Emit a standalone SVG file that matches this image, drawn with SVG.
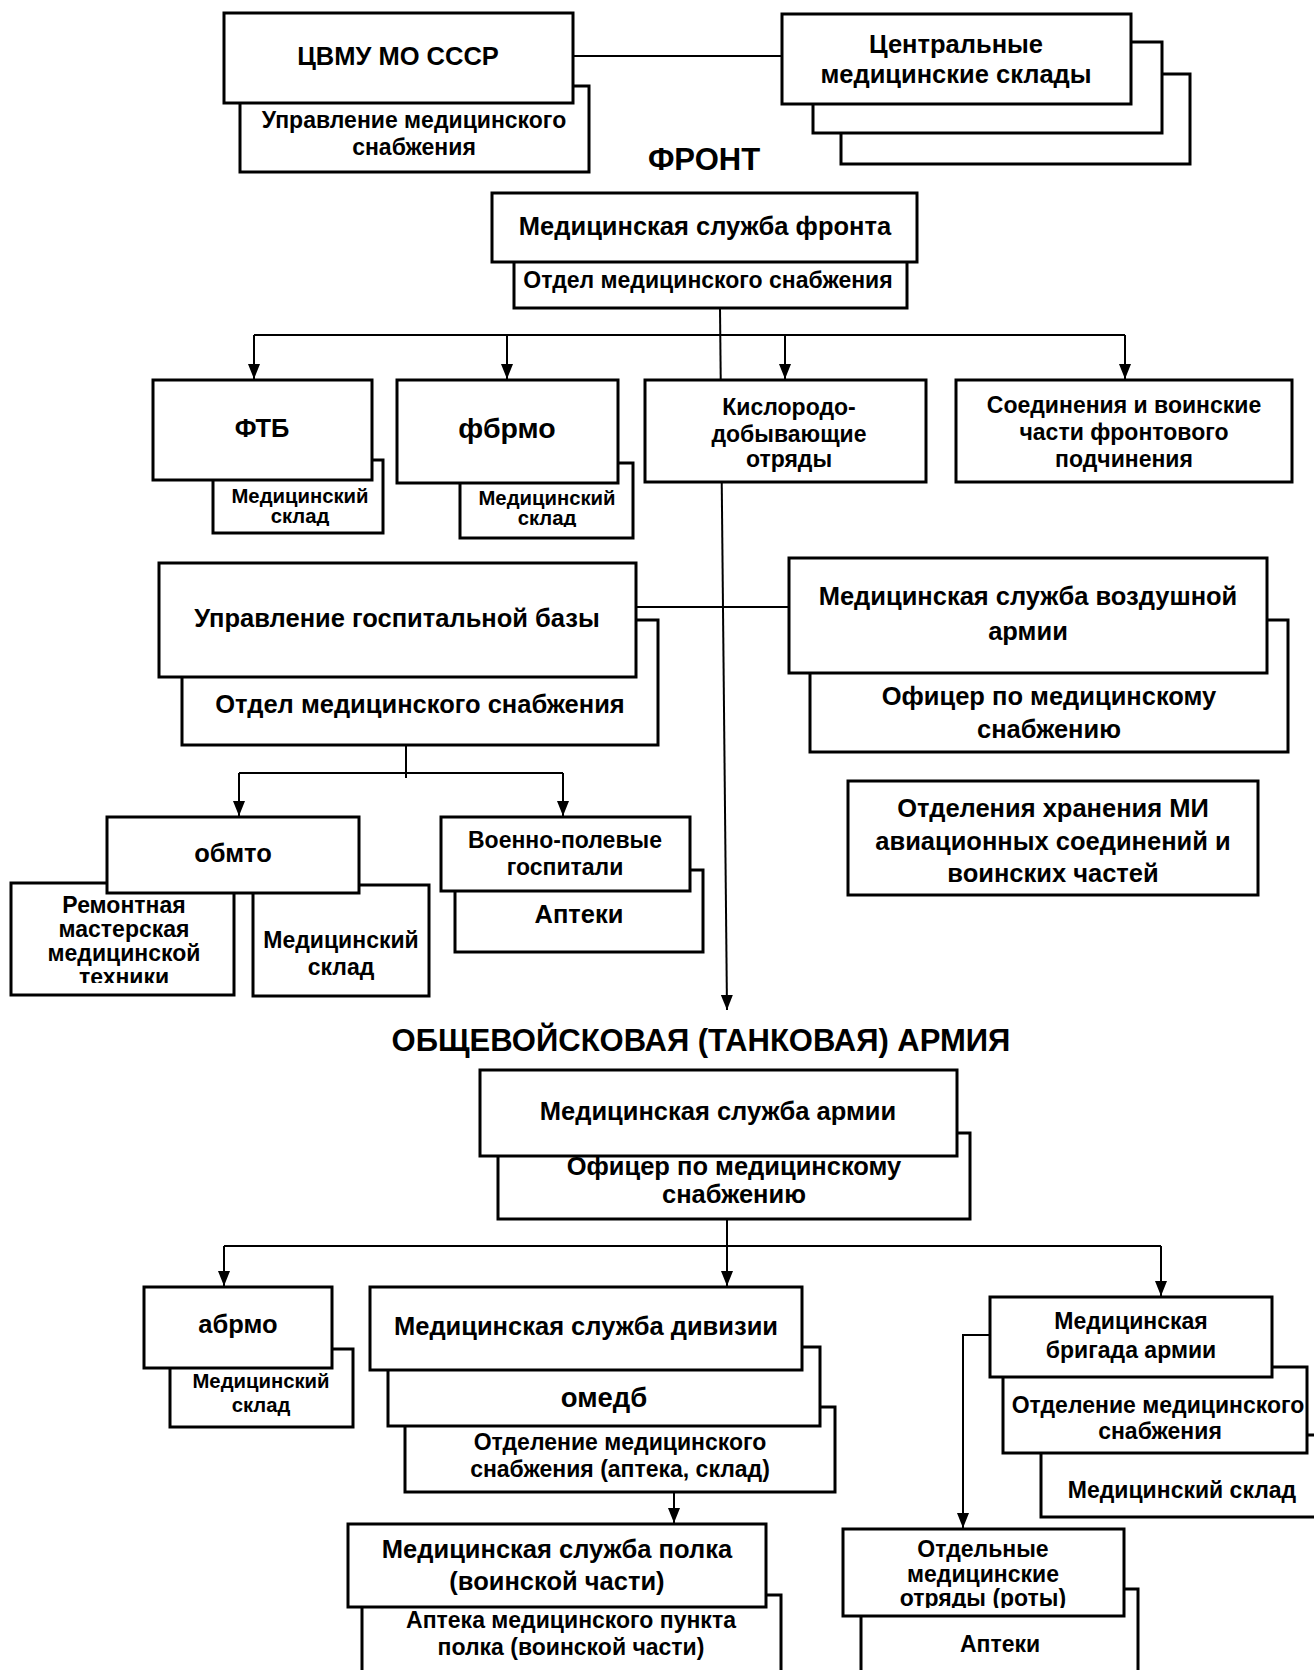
<svg xmlns="http://www.w3.org/2000/svg" width="1314" height="1670" viewBox="0 0 1314 1670">
<style>
rect.b{fill:#fff;stroke:#000;stroke-width:3}
text{font-family:"Liberation Sans",Arial,sans-serif;font-weight:bold;text-anchor:middle;fill:#000}
.c line,.c polyline{stroke:#000;stroke-width:2;fill:none}
.h{font-size:31px}.a{font-size:25.5px}.b2{font-size:23px}.s{font-size:20.3px}.f1{font-size:28.5px}.f2{font-size:27.5px}
</style>
<defs>
<marker id="ar" markerUnits="userSpaceOnUse" markerWidth="16" markerHeight="14" refX="15" refY="6" orient="auto">
<path d="M0,0 L15,6 L0,12 z" fill="#000"/>
</marker>
<clipPath id="cl1"><rect x="213" y="460" width="170" height="66"/></clipPath>
<clipPath id="cl2"><rect x="460" y="463" width="173" height="64"/></clipPath>
<clipPath id="cl3"><rect x="11" y="883" width="223" height="100"/></clipPath>
<clipPath id="cl4"><rect x="843" y="1529" width="281" height="79"/></clipPath>
</defs>

<g id="connectors" class="c">
<line x1="573" y1="56" x2="782" y2="56"/>
<line x1="720" y1="308" x2="727" y2="1010" marker-end="url(#ar)"/>
<line x1="254" y1="335" x2="1125" y2="335"/>
<line x1="254" y1="335" x2="254" y2="379" marker-end="url(#ar)"/>
<line x1="507" y1="335" x2="507" y2="379" marker-end="url(#ar)"/>
<line x1="785" y1="335" x2="785" y2="379" marker-end="url(#ar)"/>
<line x1="1125" y1="335" x2="1125" y2="379" marker-end="url(#ar)"/>
<line x1="636" y1="607" x2="789" y2="607"/>
<line x1="406" y1="745" x2="406" y2="778"/>
<line x1="239" y1="773" x2="563" y2="773"/>
<line x1="239" y1="773" x2="239" y2="816" marker-end="url(#ar)"/>
<line x1="563" y1="773" x2="563" y2="816" marker-end="url(#ar)"/>
<line x1="727" y1="1219" x2="727" y2="1286" marker-end="url(#ar)"/>
<line x1="224" y1="1246" x2="1161" y2="1246"/>
<line x1="224" y1="1246" x2="224" y2="1286" marker-end="url(#ar)"/>
<line x1="1161" y1="1246" x2="1161" y2="1296" marker-end="url(#ar)"/>
<line x1="674" y1="1492" x2="674" y2="1523" marker-end="url(#ar)"/>
<polyline points="990,1335 963,1335 963,1528" marker-end="url(#ar)"/>
</g>

<g id="n-cvmu">
<rect class="b" x="240" y="86" width="349" height="86"/>
<text class="b2" x="414" y="128">Управление медицинского</text>
<text class="b2" x="414" y="155">снабжения</text>
<rect class="b" x="224" y="13" width="349" height="90"/>
<text class="a" x="398" y="65">ЦВМУ МО СССР</text>
</g>

<g id="n-central">
<rect class="b" x="841" y="74" width="349" height="90"/>
<rect class="b" x="813" y="42" width="349" height="91"/>
<rect class="b" x="782" y="14" width="349" height="90"/>
<text class="a" x="956" y="53">Центральные</text>
<text class="a" x="956" y="83">медицинские склады</text>
</g>

<text id="t-front" class="h" x="704" y="170">ФРОНТ</text>

<g id="n-front">
<rect class="b" x="514" y="250" width="393" height="58"/>
<text class="b2" x="708" y="288">Отдел медицинского снабжения</text>
<rect class="b" x="492" y="193" width="425" height="69"/>
<text class="a" x="705" y="235">Медицинская служба фронта</text>
</g>

<g id="n-ftb">
<rect class="b" x="213" y="460" width="170" height="73"/>
<g clip-path="url(#cl1)">
<text class="s" x="300" y="503">Медицинский</text>
<text class="s" x="300" y="523">склад</text>
</g>
<rect class="b" x="153" y="380" width="219" height="100"/>
<text class="a" x="262" y="437">ФТБ</text>
</g>

<g id="n-fbrmo">
<rect class="b" x="460" y="463" width="173" height="75"/>
<g clip-path="url(#cl2)">
<text class="s" x="547" y="505">Медицинский</text>
<text class="s" x="547" y="525">склад</text>
</g>
<rect class="b" x="397" y="380" width="221" height="103"/>
<text class="f1" x="507" y="438">фбрмо</text>
</g>

<g id="n-kislorod">
<rect class="b" x="645" y="380" width="281" height="102"/>
<text class="b2" x="789" y="415">Кислородо-</text>
<text class="b2" x="789" y="442">добывающие</text>
<text class="b2" x="789" y="467">отряды</text>
</g>

<g id="n-soed">
<rect class="b" x="956" y="380" width="336" height="102"/>
<text class="b2" x="1124" y="413">Соединения и воинские</text>
<text class="b2" x="1124" y="440">части фронтового</text>
<text class="b2" x="1124" y="467">подчинения</text>
</g>

<g id="n-gospbase">
<rect class="b" x="182" y="620" width="476" height="125"/>
<text class="a" x="420" y="713">Отдел медицинского снабжения</text>
<rect class="b" x="159" y="563" width="477" height="114"/>
<text class="a" x="397" y="627">Управление госпитальной базы</text>
</g>

<g id="n-vvs">
<rect class="b" x="810" y="620" width="478" height="132"/>
<text class="a" x="1049" y="705">Офицер по медицинскому</text>
<text class="a" x="1049" y="738">снабжению</text>
<rect class="b" x="789" y="558" width="478" height="115"/>
<text class="a" x="1028" y="605">Медицинская служба воздушной</text>
<text class="a" x="1028" y="640">армии</text>
</g>

<g id="n-otdhran">
<rect class="b" x="848" y="781" width="410" height="114"/>
<text class="a" x="1053" y="817">Отделения хранения МИ</text>
<text class="a" x="1053" y="850">авиационных соединений и</text>
<text class="a" x="1053" y="882">воинских частей</text>
</g>

<g id="n-obmto">
<rect class="b" x="11" y="883" width="223" height="112"/>
<g clip-path="url(#cl3)">
<text class="b2" x="124" y="913">Ремонтная</text>
<text class="b2" x="124" y="937">мастерская</text>
<text class="b2" x="124" y="961">медицинской</text>
<text class="b2" x="124" y="985">техники</text>
</g>
<rect class="b" x="253" y="885" width="176" height="111"/>
<text class="b2" x="341" y="948">Медицинский</text>
<text class="b2" x="341" y="975">склад</text>
<rect class="b" x="107" y="817" width="252" height="76"/>
<text class="a" x="233" y="862">обмто</text>
</g>

<g id="n-vpg">
<rect class="b" x="455" y="870" width="248" height="82"/>
<text class="a" x="579" y="923">Аптеки</text>
<rect class="b" x="441" y="817" width="249" height="74"/>
<text class="b2" x="565" y="848">Военно-полевые</text>
<text class="b2" x="565" y="875">госпитали</text>
</g>

<text id="t-army" class="h" x="701" y="1051">ОБЩЕВОЙСКОВАЯ (ТАНКОВАЯ) АРМИЯ</text>

<g id="n-army">
<rect class="b" x="498" y="1133" width="472" height="86"/>
<text class="a" x="734" y="1175">Офицер по медицинскому</text>
<text class="a" x="734" y="1203">снабжению</text>
<rect class="b" x="480" y="1070" width="477" height="86"/>
<text class="a" x="718" y="1120">Медицинская служба армии</text>
</g>

<g id="n-abrmo">
<rect class="b" x="170" y="1349" width="183" height="78"/>
<text class="s" x="261" y="1388">Медицинский</text>
<text class="s" x="261" y="1412">склад</text>
<rect class="b" x="144" y="1287" width="188" height="81"/>
<text class="a" x="238" y="1333">абрмо</text>
</g>

<g id="n-div">
<rect class="b" x="405" y="1407" width="430" height="85"/>
<text class="b2" x="620" y="1450">Отделение медицинского</text>
<text class="b2" x="620" y="1477">снабжения (аптека, склад)</text>
<rect class="b" x="388" y="1347" width="432" height="79"/>
<text class="f2" x="604" y="1407">омедб</text>
<rect class="b" x="370" y="1287" width="432" height="83"/>
<text class="a" x="586" y="1335">Медицинская служба дивизии</text>
</g>

<g id="n-polk">
<rect class="b" x="362" y="1595" width="419" height="90"/>
<text class="b2" x="571" y="1628">Аптека медицинского пункта</text>
<text class="b2" x="571" y="1655">полка (воинской части)</text>
<rect class="b" x="348" y="1524" width="418" height="83"/>
<text class="a" x="557" y="1558">Медицинская служба полка</text>
<text class="a" x="557" y="1590">(воинской части)</text>
</g>

<g id="n-brig">
<rect class="b" x="1041" y="1435" width="285" height="82"/>
<text class="b2" x="1182" y="1498">Медицинский склад</text>
<rect class="b" x="1003" y="1367" width="304" height="86"/>
<text class="b2" x="1158" y="1413">Отделение медицинского</text>
<text class="b2" x="1160" y="1439">снабжения</text>
<rect class="b" x="990" y="1297" width="282" height="80"/>
<text class="b2" x="1131" y="1329">Медицинская</text>
<text class="b2" x="1131" y="1358">бригада армии</text>
</g>

<g id="n-otdelnye">
<rect class="b" x="861" y="1589" width="277" height="96"/>
<text class="b2" x="1000" y="1652">Аптеки</text>
<rect class="b" x="843" y="1529" width="281" height="87"/>
<g clip-path="url(#cl4)">
<text class="b2" x="983" y="1557">Отдельные</text>
<text class="b2" x="983" y="1582">медицинские</text>
<text class="b2" x="983" y="1606">отряды (роты)</text>
</g>
</g>
</svg>
